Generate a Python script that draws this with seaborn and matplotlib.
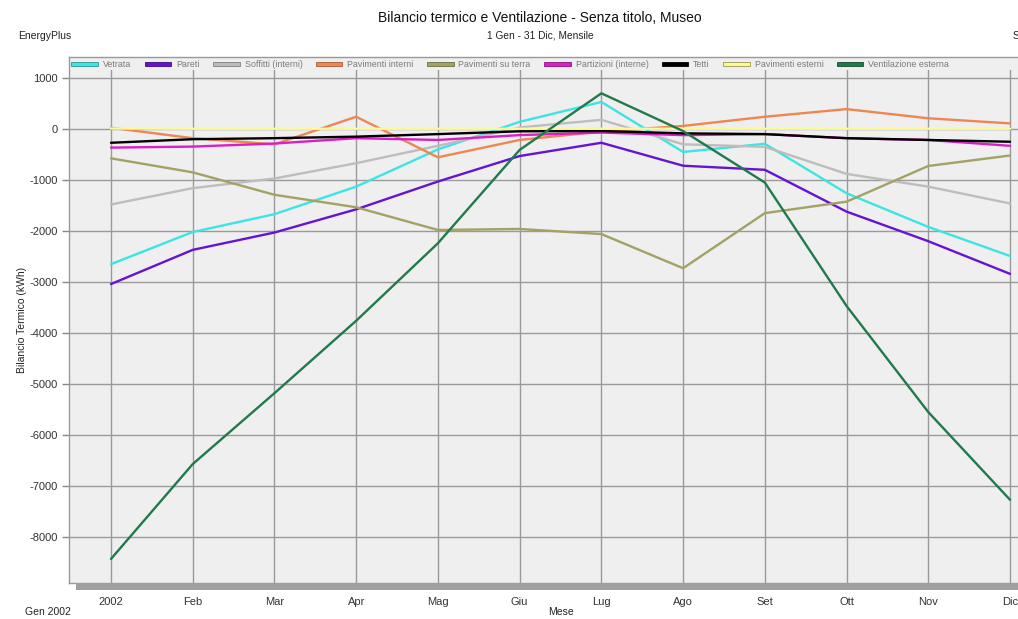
import matplotlib
matplotlib.use("Agg")
import matplotlib.pyplot as plt
from matplotlib.patches import Patch, Rectangle
import seaborn as sns
import pandas as pd

# Monthly heat balance per component (kWh)
months = ["2002", "Feb", "Mar", "Apr", "Mag", "Giu", "Lug", "Ago", "Set", "Ott", "Nov", "Dic"]

vetrata = [-2650, -2020, -1670, -1130, -400, 140, 530, -450, -290, -1260, -1920, -2490]
pareti = [-3040, -2370, -2030, -1575, -1030, -530, -270, -720, -800, -1620, -2200, -2840]
soffitti = [-1480, -1160, -970, -670, -330, 30, 180, -300, -350, -880, -1130, -1460]
pav_interni = [25, -180, -300, 240, -555, -215, -50, 60, 240, 390, 210, 110]
pav_terra = [-575, -850, -1290, -1535, -1980, -1960, -2060, -2730, -1650, -1425, -725, -520]
partizioni = [-365, -345, -285, -180, -215, -120, -70, -120, -100, -180, -215, -330]
tetti = [-270, -200, -180, -150, -100, -45, -40, -85, -100, -180, -215, -250]
pav_esterni = [10, 5, 5, 5, 5, 5, 5, 5, 5, 5, 5, 5]
ventilazione = [-8430, -6570, -5180, -3760, -2240, -410, 700, -40, -1050, -3470, -5550, -7270]

series_names = ["Vetrata", "Pareti", "Soffitti (interni)", "Pavimenti interni",
                "Pavimenti su terra", "Partizioni (interne)", "Tetti",
                "Pavimenti esterni", "Ventilazione esterna"]
series_values = [vetrata, pareti, soffitti, pav_interni, pav_terra,
                 partizioni, tetti, pav_esterni, ventilazione]
colors = ["#3EE3E3", "#6414D2", "#BDBDBD", "#EE8652", "#A2A264",
          "#DA1FC6", "#000000", "#FAFA96", "#1F7A4C"]
edge_colors = ["#2A9A9A", "#3C0A8A", "#808080", "#A85A30", "#6E6E40",
               "#901080", "#000000", "#9A9A50", "#10502E"]

rows = []
for name, vals in zip(series_names, series_values):
    for i, v in enumerate(vals):
        rows.append({"mese": i, "valore": v, "serie": name})
df = pd.DataFrame(rows)

sns.set_style("white")
font_list = ["Liberation Sans Narrow", "Liberation Sans", "DejaVu Sans"]
plt.rcParams["font.family"] = font_list

fig = plt.figure(figsize=(10.18, 6.19), dpi=100)
W, H = 1018, 619

# axes box in pixels: left 69, top 57, bottom 583, right beyond the edge
ax_l, ax_t, ax_b, ax_r = 69, 57, 583, 1040
ax = fig.add_axes([ax_l / W, 1 - ax_b / H, (ax_r - ax_l) / W, (ax_b - ax_t) / H])
ax.set_facecolor("#EFEFEF")

# drop shadow under the plot frame
fig.patches.append(Rectangle((76 / W, 1 - 590 / H), (W - 76) / W, 7 / H,
                             transform=fig.transFigure, facecolor="#A0A0A0",
                             edgecolor="none", zorder=0))

sns.lineplot(data=df, x="mese", y="valore", hue="serie", palette=dict(zip(series_names, colors)),
             hue_order=series_names, linewidth=1.7, ax=ax, legend=False, zorder=3)

# x scale: month index, tick at 111 px for index 0 and 81.73 px per month
px_per = (1010 - 111) / 11
x0 = -(111 - ax_l) / px_per
x1 = (ax_r - 111) / px_per
ax.set_xlim(x0, x1)
# y scale: 0 at y=129 px, 51 px per 1000 kWh
ax.set_ylim((129 - ax_b) / 51 * 1000, (129 - ax_t) / 51 * 1000)

ax.set_xticks(range(12))
ax.set_xticklabels(months)
ax.set_yticks(range(-8000, 1001, 1000))
ax.set_yticklabels([str(v) for v in range(-8000, 1001, 1000)])
ax.grid(True, color="#9A9A9A", linewidth=1.0, zorder=1)
ax.set_axisbelow(True)

# legend strip at the top of the plot, covering the grid
strip_h = 13 / (ax_b - ax_t)
ax.add_patch(Rectangle((0, 1 - strip_h), 1, strip_h, transform=ax.transAxes,
                       facecolor="#EFEFEF", edgecolor="none", zorder=2))

ax.tick_params(axis="y", which="both", direction="out", length=5, width=1, color="#888888",
               labelsize=8, labelcolor="#333333", pad=3, left=True)
ax.tick_params(axis="x", length=0, labelsize=8, labelcolor="#333333", pad=10)

for side in ["top", "left", "bottom"]:
    ax.spines[side].set_color("#999999")
    ax.spines[side].set_linewidth(1)
ax.spines["right"].set_visible(False)

ax.set_xlabel("")
ax.set_ylabel("")

handles = [Patch(facecolor=c, edgecolor=e, linewidth=0.6) for c, e in zip(colors, edge_colors)]
leg = ax.legend(handles, series_names, loc="upper left", bbox_to_anchor=(-0.003, 1.004),
                ncol=9, frameon=False, fontsize=6.4, handlelength=3.0, handleheight=0.45,
                handletextpad=0.55, columnspacing=1.5, borderaxespad=0.2)
leg.set_zorder(5)
for t in leg.get_texts():
    t.set_color("#7A7A7A")

fig.text(540 / W, 1 - 18 / H, "Bilancio termico e Ventilazione - Senza titolo, Museo",
         ha="center", va="center", fontsize=10, color="#111111")
fig.text(540 / W, 1 - 36 / H, "1 Gen - 31 Dic, Mensile", ha="center", va="center",
         fontsize=7.3, color="#222222")
fig.text(18 / W, 1 - 36 / H, "EnergyPlus", ha="left", va="center", fontsize=7.5, color="#222222")
fig.text(1013 / W, 1 - 36 / H, "Senza titolo", ha="left", va="center", fontsize=7.5, color="#222222")
fig.text(22 / W, 1 - 320 / H, "Bilancio Termico (kWh)", rotation=90, ha="center", va="center",
         fontsize=7.5, color="#222222")
fig.text(561 / W, 1 - 612 / H, "Mese", ha="center", va="center", fontsize=7.5, color="#222222")
fig.text(25 / W, 1 - 612 / H, "Gen 2002", ha="left", va="center", fontsize=7.5, color="#222222")

fig.savefig("out.png", dpi=100, facecolor="white")
